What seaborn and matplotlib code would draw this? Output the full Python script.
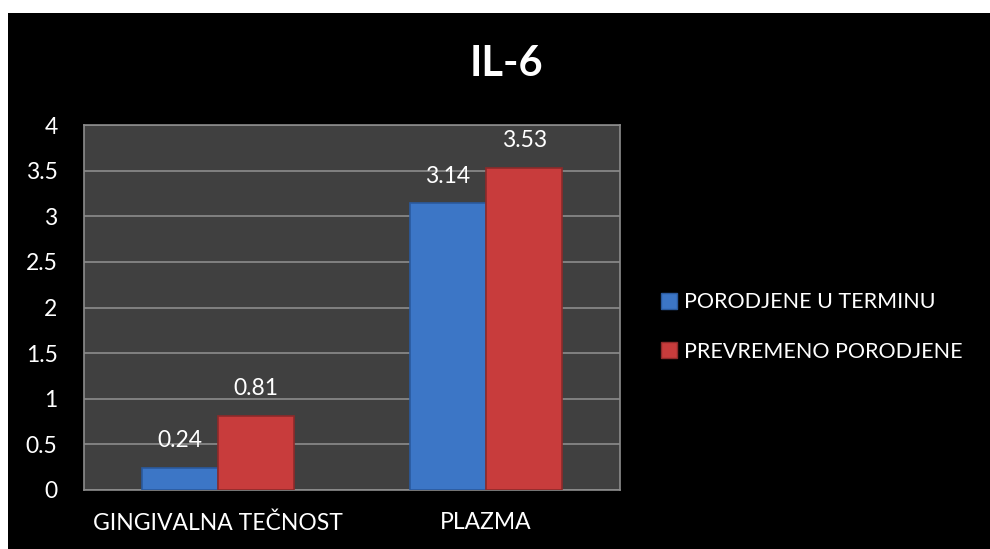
"""Grouped bar chart of IL-6 levels, dark Excel-like style."""

import matplotlib.pyplot as plt
import pandas as pd
import seaborn as sns
from matplotlib.patches import Patch, Rectangle

CATEGORIES = ["GINGIVALNA TEČNOST", "PLAZMA"]
GROUPS = ["PORODJENE U TERMINU", "PREVREMENO PORODJENE"]
TERM_VALUES = [0.24, 3.14]
PRETERM_VALUES = [0.81, 3.53]
Y_TICKS = [0, 0.5, 1, 1.5, 2, 2.5, 3, 3.5, 4]
Y_TICK_LABELS = ["0", "0.5", "1", "1.5", "2", "2.5", "3", "3.5", "4"]

COLORS = {"PORODJENE U TERMINU": "#3c76c6", "PREVREMENO PORODJENE": "#c83c3c"}
EDGES = {"PORODJENE U TERMINU": "#2a5a9e", "PREVREMENO PORODJENE": "#8e2a2a"}

data = pd.DataFrame({
    "category": CATEGORIES * 2,
    "group": [GROUPS[0]] * len(CATEGORIES) + [GROUPS[1]] * len(CATEGORIES),
    "value": TERM_VALUES + PRETERM_VALUES,
})

sns.set_style("white")
plt.rcParams["font.family"] = ["Lato", "DejaVu Sans"]

fig = plt.figure(figsize=(9.9, 5.49), dpi=100, facecolor="white")
fig.patches.append(Rectangle((8 / 990, 0), 1, 1 - 13 / 549,
                             transform=fig.transFigure, facecolor="black",
                             edgecolor="none", zorder=-10))
ax = fig.add_axes([84 / 990, 1 - 490 / 549, 536 / 990, 365 / 549])
ax.set_facecolor("#404040")

sns.barplot(data=data, x="category", y="value", hue="group",
            palette=COLORS, width=0.57, gap=0, ax=ax, legend=False,
            saturation=1)

for container, group in zip(ax.containers, GROUPS):
    for bar in container:
        bar.set_edgecolor(EDGES[group])
        bar.set_linewidth(1.2)
        bar.set_zorder(3)
    ax.bar_label(container, fmt="%.2f", padding=12, color="white",
                 fontsize=16.5)

ax.set_ylim(0, 4)
ax.set_yticks(Y_TICKS)
ax.set_yticklabels(Y_TICK_LABELS)
ax.grid(axis="y", color="#8c8c8c", linewidth=1.2, zorder=0)
ax.set_axisbelow(True)
ax.tick_params(axis="both", colors="white", labelsize=16.5, length=0)
ax.tick_params(axis="x", pad=16)
ax.tick_params(axis="y", pad=19)
for spine in ax.spines.values():
    spine.set_color("#8c8c8c")
    spine.set_linewidth(1.2)
ax.set_xlabel("")
ax.set_ylabel("")

fig.text(506 / 990, 1 - 64 / 549, "IL-6", color="white", fontsize=30,
         fontweight="bold", ha="center", va="center")

handles = [Patch(facecolor=COLORS[g], edgecolor=EDGES[g]) for g in GROUPS]
leg = fig.legend(handles, GROUPS, loc="center left",
                 bbox_to_anchor=(661 / 990, 1 - 327 / 549), frameon=False,
                 borderpad=0, borderaxespad=0,
                 fontsize=15.5, labelcolor="white", handlelength=0.75,
                 handleheight=0.75, handletextpad=0.3, labelspacing=1.35)

fig.savefig("out.png", dpi=100, facecolor=fig.get_facecolor())
